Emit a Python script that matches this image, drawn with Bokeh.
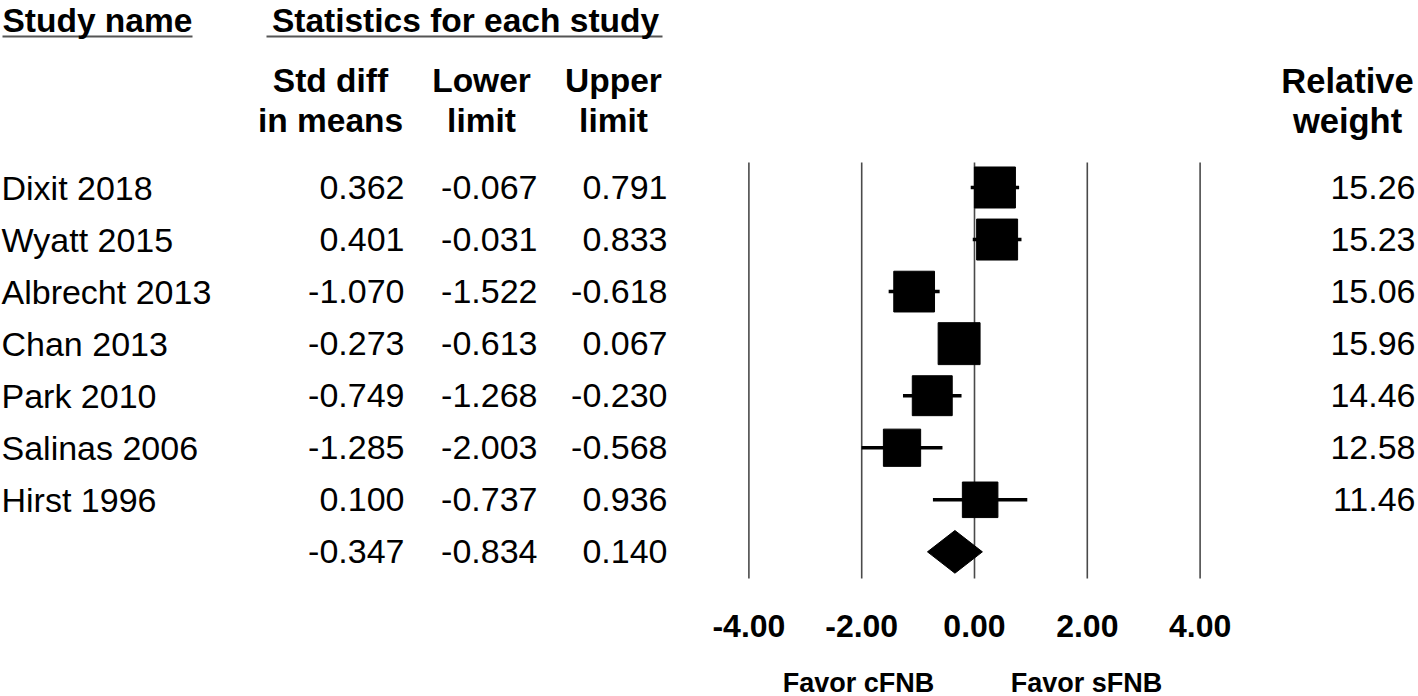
import numpy as np
from bokeh.plotting import figure
from bokeh.models import Range1d, Label, ColumnDataSource
from bokeh.core.properties import value
from bokeh.embed import file_html
from bokeh.resources import INLINE

# ---------------- data ----------------
studies = ["Dixit 2018", "Wyatt 2015", "Albrecht 2013", "Chan 2013",
           "Park 2010", "Salinas 2006", "Hirst 1996"]
std_diff = [0.362, 0.401, -1.070, -0.273, -0.749, -1.285, 0.100]
lower_limit = [-0.067, -0.031, -1.522, -0.613, -1.268, -2.003, -0.737]
upper_limit = [0.791, 0.833, -0.618, 0.067, -0.230, -0.568, 0.936]
rel_weight = [15.26, 15.23, 15.06, 15.96, 14.46, 12.58, 11.46]
summary_est = -0.347
summary_lower = -0.834
summary_upper = 0.140
ticks = [-4, -2, 0, 2, 4]
tick_labels = ["-4.00", "-2.00", "0.00", "2.00", "4.00"]
favor_labels = ["Favor cFNB", "Favor sFNB"]

# ---------------- layout constants (page pixel space) ----------------
W, H = 1418, 696
X0, UNIT = 974.0, 56.4        # pixel of effect 0, pixels per unit
Y0, ROW = 187.0, 52.05        # pixel of first row centre, row spacing
FONT = "Liberation Sans"

n = len(studies)
rows = list(range(n))
sum_row = n

p = figure(width=W, height=H, output_backend="svg", toolbar_location=None,
           x_range=Range1d((0 - X0) / UNIT, (W - X0) / UNIT),
           y_range=Range1d((H - Y0) / ROW, (0 - Y0) / ROW),
           x_axis_type=None, y_axis_type=None, min_border=0,
           outline_line_color=None, background_fill_color="white",
           border_fill_color="white")
p.grid.visible = False
p.extra_x_ranges = {"px": Range1d(0, W)}
p.extra_y_ranges = {"py": Range1d(H, 0)}

# ---------------- forest plot ----------------
p.segment(x0=ticks, x1=ticks, y0=[-0.48] * len(ticks), y1=[7.51] * len(ticks),
          line_color="#4a4a4a", line_width=1.6)

src = ColumnDataSource(dict(
    row=rows, est=std_diff, lo=lower_limit, hi=upper_limit, w=rel_weight,
    size=[10.5 * np.sqrt(w) for w in rel_weight],
))
p.segment(x0="lo", x1="hi", y0="row", y1="row", source=src,
          line_color="black", line_width=3.5)
p.scatter(x="est", y="row", size="size", marker="square", source=src,
          fill_color="black", line_color="black")

dh = 0.41
p.patch(x=[summary_lower, summary_est, summary_upper, summary_est],
        y=[sum_row, sum_row - dh, sum_row, sum_row + dh],
        fill_color="black", line_color="black")

# axis tick labels
p.text(x=ticks, y=[625] * len(ticks), text=tick_labels, y_range_name="py",
       text_align="center", text_baseline="alphabetic",
       text_font=value(FONT), text_font_style="bold", text_font_size="32px",
       text_color="black")

for lab, xc in zip(favor_labels, [858, 1086]):
    p.add_layout(Label(x=xc, y=682, x_range_name="px", y_range_name="py",
                       text=lab, text_align="center", text_baseline="alphabetic",
                       text_font=FONT, text_font_style="bold",
                       text_font_size="27px", text_color="black"))

# ---------------- table text ----------------
def fmt3(v):
    return f"{v:.3f}"

tsrc = ColumnDataSource(dict(
    y=rows,
    name=studies,
    sd=[fmt3(v) for v in std_diff],
    lo=[fmt3(v) for v in lower_limit],
    hi=[fmt3(v) for v in upper_limit],
    w=[f"{v:.2f}" for v in rel_weight],
    xn=[1] * n, xsd=[404] * n, xlo=[537] * n, xhi=[667] * n, xw=[1415] * n,
))
common = dict(text_font=value(FONT), text_font_size="34px",
              text_color="black", text_baseline="alphabetic",
              x_range_name="px", source=tsrc)
p.text(x="xn", y="y", text="name", text_align="left", **common)
p.text(x="xsd", y="y", text="sd", text_align="right", **common)
p.text(x="xlo", y="y", text="lo", text_align="right", **common)
p.text(x="xhi", y="y", text="hi", text_align="right", **common)
p.text(x="xw", y="y", text="w", text_align="right", **common)

ssrc = ColumnDataSource(dict(
    y=[sum_row] * 3,
    x=[404, 537, 667],
    t=[fmt3(summary_est), fmt3(summary_lower), fmt3(summary_upper)],
))
p.text(x="x", y="y", text="t", source=ssrc, x_range_name="px",
       text_align="right", text_baseline="alphabetic",
       text_font=value(FONT), text_font_size="34px", text_color="black")

# ---------------- headers ----------------
def hdr(text, x, y, align="center", size="33.5px"):
    p.add_layout(Label(x=x, y=y, x_range_name="px", y_range_name="py",
                       text=text, text_align=align, text_baseline="alphabetic",
                       text_font=FONT, text_font_style="bold",
                       text_font_size=size, text_color="black"))

hdr("Study name", 2, 20, align="left")
hdr("Statistics for each study", 465, 20)
p.segment(x0=[2, 266], x1=[192, 662], y0=[36, 36], y1=[36, 36],
          x_range_name="px", y_range_name="py",
          line_color="#555555", line_width=2)

hdr("Std diff", 330, 80)
hdr("in means", 330, 120)
hdr("Lower", 481, 80)
hdr("limit", 481, 120)
hdr("Upper", 613, 80)
hdr("limit", 613, 120)
hdr("Relative", 1347, 80, size="34.5px")
hdr("weight", 1347, 120, size="34.5px")

open("out.html", "w").write(file_html(p, INLINE))
